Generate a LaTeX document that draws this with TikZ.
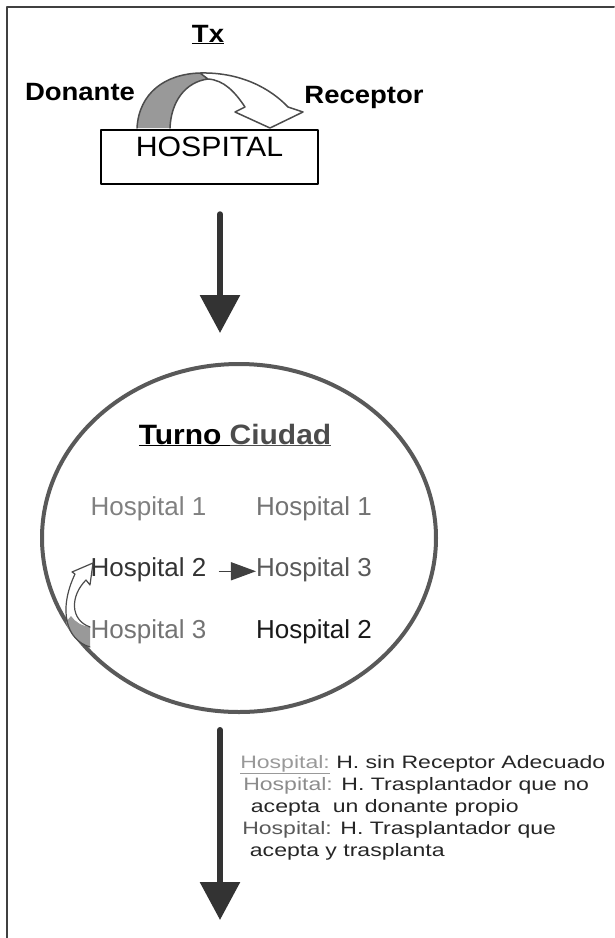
\documentclass[tikz,border=0pt]{standalone}
\usepackage{fontspec}
\setmainfont{Liberation Sans}
\usetikzlibrary{arrows.meta,shapes.geometric}
\begin{document}
\begin{tikzpicture}[x=1pt,y=-1pt,line join=round,line cap=round,
titulo/.style={font=\fontsize{25}{30}\bfseries\selectfont,inner sep=0pt,anchor=base,xscale=1.1},
hosp/.style={font=\fontsize{26}{30}\selectfont,inner sep=0pt,anchor=base},
nota/.style={font=\fontsize{18}{22}\selectfont,inner sep=0pt,anchor=north west,align=left,xscale=1.28,text=black!85},
flecha/.style={line width=6pt,draw=black!80,-{Triangle[width=39pt,length=38pt]}}]
\useasboundingbox (0,0) rectangle (614,938);
\draw[line width=2pt,black!75] (7,938)--(7,7)--(614,7);
% Tx
\path (208,42)node[titulo] (tx){\underline{Tx}}
(80,100)node[titulo] (donante){Donante}
(364,103)node[titulo] (receptor){Receptor};
\node[draw,line width=2.5pt,minimum width=201pt,minimum height=54pt,inner sep=0pt,
font=\fontsize{28}{30}\selectfont,xscale=1.08,text height=20pt,text depth=21pt] (hosp) at (209.5,157) {HOSPITAL};
\fill[black!40] (137,128) .. controls (139,93) and (165,74) .. (200,73) -- (208,79)
.. controls (185,82) and (171,102) .. (170,128) -- cycle;
\draw[black!70,line width=1.5pt] (137,128) .. controls (139,93) and (165,74) .. (200,73)
.. controls (240,72) and (270,88) .. (288,107) -- (303,112) -- (270,128) -- (235,112) -- (245,107)
.. controls (235,92) and (224,80) .. (208,79) .. controls (185,82) and (171,102) .. (170,128)
(200,73)--(208,79);
% ciudad
\node[ellipse,draw=black!65,line width=4pt,minimum width=394pt,minimum height=348pt,inner sep=0pt] (ciudad) at (239,538) {};
\node[font=\fontsize{28}{30}\bfseries\selectfont,inner sep=0pt,anchor=base,xscale=1.07] (turno) at (235,444)
{\underline{Turno\ }\textcolor{black!70}{\underline{Ciudad}}};
\path (148.5,515)node[hosp,text=black!50] (izq1){Hospital 1}
++(0,61)node[hosp,text=black!80] (izq2){Hospital 2}
++(0,62)node[hosp,text=black!55] (izq3){Hospital 3}
(314,515)node[hosp,text=black!55] (der1){Hospital 1}
++(0,61)node[hosp,text=black!65] (der2){Hospital 3}
++(0,62)node[hosp,text=black!90] (der3){Hospital 2};
\draw[black!75,line width=1.5pt,shorten <=13pt,-{Triangle[width=18pt,length=25pt]}] ([yshift=-2pt]izq2.east) -- ([yshift=-2pt]der2.west);
\fill[black!40] (90,647) .. controls (78,643) and (69,634) .. (66,622) -- (71,616)
.. controls (75,622) and (82,626) .. (90,627) -- cycle;
\draw[black!70,line width=1.2pt] (90,647) .. controls (66,640) and (58,610) .. (75,574) -- (72,572) -- (93,563) -- (90,585) -- (86,580)
.. controls (70,596) and (70,620) .. (90,627);
% flechas
\coordinate (fin) at (220,920);
\draw[flecha,shorten <=29pt,shorten >=29pt] (hosp.south -| fin) -- (ciudad.north -| fin);
\draw[flecha,shorten <=16pt] (ciudad.south -| fin) -- (fin);
\node[nota] (e1) at (240,755) {\textcolor{black!40}{\underline{Hospital:}} H. sin Receptor Adecuado};
\node[nota] (e2) at (243,777) {\textcolor{black!45}{Hospital:} H. Trasplantador que no\\\hspace*{6pt}acepta\ \ un donante propio};
\node[nota] (e3) at (242,821) {\textcolor{black!65}{Hospital:} H. Trasplantador que\\\hspace*{6pt}acepta y trasplanta};
\end{tikzpicture}
\end{document}
